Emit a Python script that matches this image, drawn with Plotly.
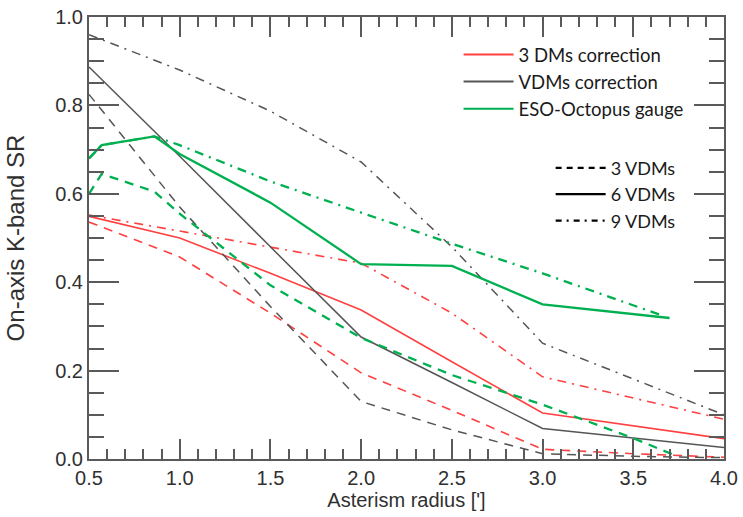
import plotly.graph_objects as go

# ---- data ----
x_red_3 = [0.5, 1.0, 1.5, 2.0, 2.5, 3.0, 3.5, 4.0]
y_red_3 = [0.536, 0.457, 0.33, 0.195, 0.11, 0.022, 0.012, 0.004]
x_red_6 = [0.5, 1.0, 1.5, 2.0, 2.5, 3.0, 4.0]
y_red_6 = [0.549, 0.50, 0.42, 0.337, 0.22, 0.104, 0.046]
x_red_9 = [0.5, 1.0, 1.5, 2.0, 2.5, 3.0, 4.0]
y_red_9 = [0.552, 0.516, 0.48, 0.443, 0.33, 0.186, 0.09]

x_vdm_3 = [0.5, 1.0, 1.5, 2.0, 2.5, 3.0, 3.5, 4.0]
y_vdm_3 = [0.825, 0.57, 0.345, 0.13, 0.066, 0.012, 0.006, 0.003]
x_vdm_6 = [0.5, 1.0, 1.5, 2.0, 2.5, 3.0, 4.0]
y_vdm_6 = [0.887, 0.685, 0.48, 0.276, 0.173, 0.069, 0.026]
x_vdm_9 = [0.5, 1.0, 1.5, 2.0, 2.5, 3.0, 4.0]
y_vdm_9 = [0.96, 0.88, 0.787, 0.672, 0.48, 0.262, 0.10]

x_eso_3 = [0.5, 0.57, 0.86, 1.0, 1.5, 2.0, 2.5, 3.0, 3.5, 3.72]
y_eso_3 = [0.60, 0.645, 0.605, 0.555, 0.393, 0.274, 0.19, 0.123, 0.047, 0.01]
x_eso_6 = [0.5, 0.57, 0.86, 1.0, 1.5, 2.0, 2.5, 3.0, 3.7]
y_eso_6 = [0.68, 0.71, 0.73, 0.69, 0.58, 0.441, 0.437, 0.35, 0.319]
x_eso_9 = [0.5, 0.57, 0.86, 1.0, 1.5, 2.0, 2.5, 3.0, 3.65]
y_eso_9 = [0.68, 0.71, 0.73, 0.71, 0.628, 0.557, 0.487, 0.42, 0.326]

group_names = ["3 DMs correction", "VDMs correction", "ESO-Octopus gauge"]
style_names = ["3 VDMs", "6 VDMs", "9 VDMs"]

# ---- styles ----
RED = "#ff4040"
GRAY = "#555555"
GREEN = "#00b050"
DASH = {"3": "9px,7px", "6": "solid", "9": "9px,6px,2px,6px"}
LEG_DASH = {"3": "6px,5px", "6": "solid", "9": "6px,5px,2px,5px"}
WID = {RED: 1.6, GRAY: 1.5, GREEN: 2.3}

series = [
    (x_red_3, y_red_3, RED, "3"), (x_red_6, y_red_6, RED, "6"), (x_red_9, y_red_9, RED, "9"),
    (x_vdm_3, y_vdm_3, GRAY, "3"), (x_vdm_6, y_vdm_6, GRAY, "6"), (x_vdm_9, y_vdm_9, GRAY, "9"),
    (x_eso_3, y_eso_3, GREEN, "3"), (x_eso_6, y_eso_6, GREEN, "6"), (x_eso_9, y_eso_9, GREEN, "9"),
]

fig = go.Figure()
for xs, ys, col, n in series:
    fig.add_trace(go.Scatter(x=xs, y=ys, mode="lines", showlegend=False, hoverinfo="skip",
                             line=dict(color=col, width=WID[col], dash=DASH[n])))

for name, col in zip(group_names, [RED, GRAY, GREEN]):
    fig.add_trace(go.Scatter(x=[None], y=[None], mode="lines", name=name, legend="legend",
                             line=dict(color=col, width=2)))
for name, n in zip(style_names, ["3", "6", "9"]):
    fig.add_trace(go.Scatter(x=[None], y=[None], mode="lines", name=name, legend="legend2",
                             line=dict(color="black", width=2.2, dash=LEG_DASH[n])))

AX = "#5a5a5a"
FONT = "Liberation Sans, Arial, sans-serif"
tickfont = dict(family=FONT, size=20, color="#303030")
fig.update_layout(
    width=743, height=517,
    margin=dict(l=89, r=19, t=17, b=58),
    paper_bgcolor="white", plot_bgcolor="white",
    xaxis=dict(range=[0.5, 4.0], dtick=0.5, tick0=0.5, tickformat=".1f", automargin=False,
               ticks="inside", ticklen=20, tickwidth=1.6, tickcolor=AX,
               minor=dict(dtick=0.1, ticks="inside", ticklen=10, tickwidth=1.6, tickcolor=AX),
               showline=True, linecolor=AX, linewidth=2, mirror="allticks",
               showgrid=False, zeroline=False, tickfont=tickfont,
               title=dict(text="Asterism radius [']", font=dict(family=FONT, size=20, color="#303030"), standoff=0)),
    yaxis=dict(range=[0, 1.0], dtick=0.2, tickformat=".1f", automargin=False,
               ticks="inside", ticklen=30, tickwidth=1.6, tickcolor=AX,
               minor=dict(dtick=0.05, ticks="inside", ticklen=15, tickwidth=1.6, tickcolor=AX),
               showline=True, linecolor=AX, linewidth=2, mirror="allticks",
               showgrid=False, zeroline=False, tickfont=tickfont,
               title=dict(text="On-axis K-band SR", font=dict(family=FONT, size=24, color="#303030"), standoff=24)),
    legend=dict(x=0.582, y=0.957, xanchor="left", yanchor="top", bgcolor="rgba(0,0,0,0)",
                font=dict(family="Lato, sans-serif", size=18.5, color="#1a1a1a"),
                itemwidth=50, tracegroupgap=0),
    legend2=dict(x=0.727, y=0.70, xanchor="left", yanchor="top", bgcolor="rgba(0,0,0,0)",
                 font=dict(family="Lato, sans-serif", size=18, color="#1a1a1a"),
                 itemwidth=50, tracegroupgap=0),
)

fig.write_html("out.html")
